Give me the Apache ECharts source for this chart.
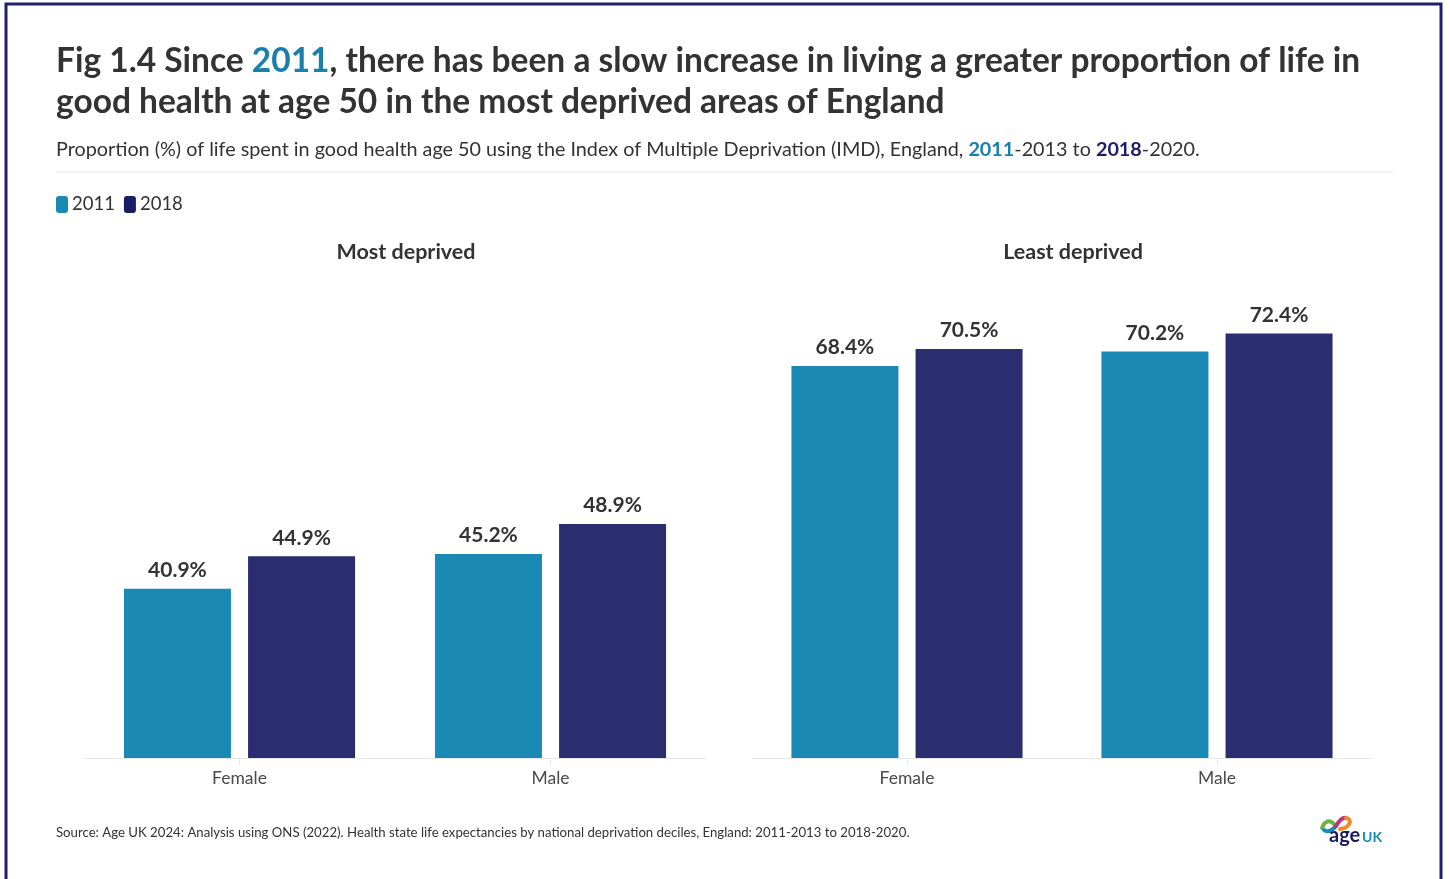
<!DOCTYPE html>
<html>
<head>
<meta charset="utf-8">
<style>
  html, body { margin: 0; padding: 0; background: #ffffff; }
  #chart { width: 1450px; height: 879px; }
</style>
<script src="https://cdn.jsdelivr.net/npm/echarts@6/dist/echarts.min.js"></script>
</head>
<body>
<div id="chart"></div>
<script>
// Proportion (%) of life spent in good health at age 50, by IMD extremes
const categories = ['Female', 'Male'];
const seriesNames = ['2011', '2018'];
const mostDeprived2011 = [40.9, 45.2];
const mostDeprived2018 = [44.9, 48.9];
const leastDeprived2011 = [68.4, 70.2];
const leastDeprived2018 = [70.5, 72.4];
const panelTitles = ['Most deprived', 'Least deprived'];

const FONT = 'Lato, "Noto Sans", sans-serif';
const C2011 = '#1a8ab5';
const C2018 = '#2b2e6e';
const TEXT = '#333333';

const chart = echarts.init(document.getElementById('chart'));

function barSeries(name, data, axisIdx, color) {
  return {
    name: name,
    type: 'bar',
    xAxisIndex: axisIdx,
    yAxisIndex: axisIdx,
    data: data,
    barWidth: 107,
    barGap: '16%',
    itemStyle: { color: color },
    label: {
      show: true,
      position: 'top',
      distance: 8,
      formatter: p => p.value.toFixed(1) + '%',
      fontFamily: FONT,
      fontWeight: 'bold',
      fontSize: 21,
      color: TEXT
    }
  };
}

function catAxis(gridIndex) {
  return {
    type: 'category',
    gridIndex: gridIndex,
    data: categories,
    axisLine: { lineStyle: { color: '#e6e6e6', width: 1 } },
    axisTick: { show: true, alignWithLabel: true, length: 7, lineStyle: { color: '#e6e6e6' } },
    axisLabel: { fontFamily: FONT, fontSize: 17.5, color: '#4a4a4a', margin: 11 }
  };
}

function valAxis(gridIndex) {
  return {
    type: 'value',
    gridIndex: gridIndex,
    min: 20,
    max: 80,
    show: false,
    splitLine: { show: false }
  };
}

const option = {
  animation: false,
  backgroundColor: '#ffffff',
  textStyle: { fontFamily: FONT },
  title: [
    {
      left: 56,
      top: 41,
      padding: 0,
      text: '{a|Fig 1.4 Since }{b|2011}{a|, there has been a slow increase in living a greater proportion of life in}\n{a|good health at age 50 in the most deprived areas of England}',
      textStyle: {
        rich: {
          a: { fontFamily: FONT, fontWeight: 'bold', fontSize: 33.5, color: TEXT, lineHeight: 41 },
          b: { fontFamily: FONT, fontWeight: 'bold', fontSize: 33.5, color: '#1a7fab', lineHeight: 41 }
        }
      }
    },
    {
      left: 56,
      top: 140,
      padding: 0,
      text: '{a|Proportion (%) of life spent in good health age 50 using the Index of Multiple Deprivation (IMD), England, }{b|2011}{a|-2013 to }{c|2018}{a|-2020.}',
      textStyle: {
        fontWeight: 'normal',
        rich: {
          a: { fontFamily: FONT, fontSize: 19.8, fontWeight: 'normal', color: TEXT },
          b: { fontFamily: FONT, fontSize: 19.8, fontWeight: 'bold', color: '#1a7fab' },
          c: { fontFamily: FONT, fontSize: 19.8, fontWeight: 'bold', color: '#1b1f6b' }
        }
      }
    }
  ],
  legend: {
    left: 51,
    top: 190,
    data: [
      { name: seriesNames[0], itemStyle: { color: C2011 } },
      { name: seriesNames[1], itemStyle: { color: '#1b1d62' } }
    ],
    icon: 'roundRect',
    itemWidth: 12,
    itemHeight: 17,
    itemGap: 9,
    textStyle: { fontFamily: FONT, fontSize: 18.5, color: TEXT, padding: [0, 0, 0, -1] },
    selectedMode: false
  },
  grid: [
    { left: 84, width: 622, top: 272, height: 486 },
    { left: 752, width: 620, top: 272, height: 486 }
  ],
  xAxis: [catAxis(0), catAxis(1)],
  yAxis: [valAxis(0), valAxis(1)],
  series: [
    barSeries(seriesNames[0], mostDeprived2011, 0, C2011),
    barSeries(seriesNames[1], mostDeprived2018, 0, C2018),
    barSeries(seriesNames[0], leastDeprived2011, 1, C2011),
    barSeries(seriesNames[1], leastDeprived2018, 1, C2018)
  ],
  graphic: [
    // outer frame
    {
      type: 'rect',
      shape: { x: 6, y: 4, width: 1435, height: 920 },
      style: { fill: 'none', stroke: '#1f1f6e', lineWidth: 3 },
      silent: true
    },
    // rule under the subtitle
    {
      type: 'line',
      shape: { x1: 56, y1: 172, x2: 1393, y2: 172 },
      style: { stroke: '#e8e8e8', lineWidth: 1 }
    },
    // panel headings
    {
      type: 'text', x: 406, y: 252,
      style: { text: panelTitles[0], fontFamily: FONT, fontWeight: 'bold', fontSize: 21.5, fill: TEXT, align: 'center', verticalAlign: 'middle' }
    },
    {
      type: 'text', x: 1073, y: 252,
      style: { text: panelTitles[1], fontFamily: FONT, fontWeight: 'bold', fontSize: 21.5, fill: TEXT, align: 'center', verticalAlign: 'middle' }
    },
    // source note
    {
      type: 'text', x: 56, y: 833,
      style: {
        text: 'Source: Age UK 2024: Analysis using ONS (2022). Health state life expectancies by national deprivation deciles, England: 2011-2013 to 2018-2020.',
        fontFamily: FONT, fontSize: 13.2, fill: TEXT, align: 'left', verticalAlign: 'middle'
      }
    },
    // Age UK logo
    {
      type: 'group', x: 1320, y: 816,
      children: [
        { type: 'bezierCurve', shape: { x1: 2, y1: 12, x2: 14, y2: 8, cpx1: 5, cpy1: 4, cpx2: 10, cpy2: 4 }, style: { stroke: '#6cb33f', lineWidth: 4, fill: 'none', lineCap: 'round' } },
        { type: 'bezierCurve', shape: { x1: 4, y1: 14, x2: 16, y2: 10, cpx1: 8, cpy1: 17, cpx2: 13, cpy2: 14 }, style: { stroke: '#1a8ab5', lineWidth: 4, fill: 'none', lineCap: 'round' } },
        { type: 'bezierCurve', shape: { x1: 16, y1: 10, x2: 26, y2: 2, cpx1: 19, cpy1: 5, cpx2: 22, cpy2: 1 }, style: { stroke: '#c2327f', lineWidth: 4, fill: 'none', lineCap: 'round' } },
        { type: 'bezierCurve', shape: { x1: 26, y1: 2, x2: 20, y2: 13, cpx1: 33, cpy1: 3, cpx2: 30, cpy2: 12 }, style: { stroke: '#f08a24', lineWidth: 4, fill: 'none', lineCap: 'round' } },
        { type: 'text', x: 9, y: 20, style: { text: 'age', fontFamily: FONT, fontWeight: 'bold', fontSize: 20, fill: '#1d1d5e', verticalAlign: 'middle' } },
        { type: 'text', x: 42, y: 21, style: { text: 'UK', fontFamily: FONT, fontWeight: 'bold', fontSize: 14, fill: '#1a8ab5', verticalAlign: 'middle' } }
      ]
    }
  ]
};

chart.setOption(option);
</script>
</body>
</html>
